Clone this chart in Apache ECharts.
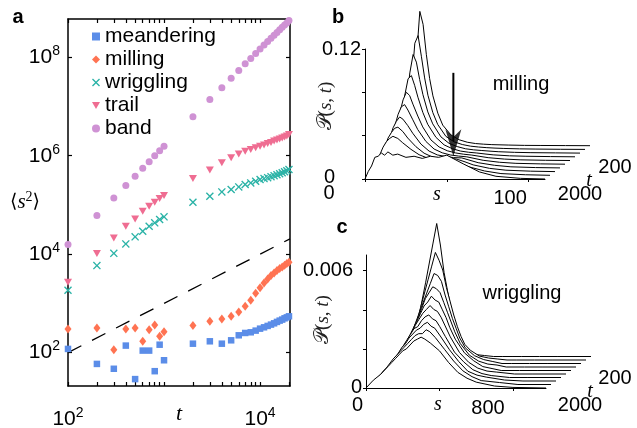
<!DOCTYPE html>
<html>
<head>
<meta charset="utf-8">
<script src="https://cdn.jsdelivr.net/npm/echarts@6/dist/echarts.min.js"></script>
<style>
html, body { margin: 0; padding: 0; background: #fff; }
#main { width: 637px; height: 428px; }
</style>
</head>
<body>
<div id="main"></div>
<script>
/* panel a: <s^2> vs t, panels b/c: P(s,t) waterfalls */

// ---- panel a data ----
const tA = [100, 200, 300, 400, 500, 600, 700, 800, 900, 1000,
    2000, 3000, 4000, 5000, 6000, 7000, 8000, 9000, 10000,
    11000, 12000, 13000, 14000, 15000, 16000, 17000, 18000, 19000, 20000];
const meandering = [119, 59, 47, 139, 29, 110, 110, 42, 145, 70,
    152, 170, 152, 178, 225, 251, 259, 280, 307,
    327, 349, 371, 394, 421, 447, 469, 498, 521, 547];
const milling = [303, 318, 115, 303, 318, 170, 293, 365, 214, 267,
    354, 433, 484, 547, 672, 873, 1156, 1600, 2070,
    2610, 3150, 3670, 4170, 4650, 5100, 5520, 5960, 6440, 6840];
const wriggling = [1850, 5860, 10400, 16200, 22500, 29200, 36900, 43300, 50500, 57300,
    113500, 150000, 184500, 205500, 233000, 260000, 281000, 303000, 328000,
    343000, 359000, 376000, 394000, 412000, 432000, 452000, 473000, 495000, 525000];
const trail = [2700, 10300, 21400, 36900, 52100, 74500, 94200, 113500, 135000, 155000,
    344000, 516000, 718000, 906000, 1090000, 1230000, 1340000, 1450000, 1560000,
    1660000, 1780000, 1860000, 2000000, 2090000, 2190000, 2290000, 2400000, 2510000, 2690000];
const band = [15700, 61000, 139000, 248000, 383000, 557000, 752000, 995000, 1260000, 1560000,
    6170000, 13900000, 24000000, 37600000, 53700000, 73800000, 94600000, 119000000, 148000000,
    178000000, 210000000, 245000000, 280000000, 320000000, 365000000, 410000000, 455000000, 500000000, 560000000];
const guideLine = [[100, 100], [20500, 20500]];   // dashed guide, slope 1
const xTicksA = [100, 200, 300, 400, 500, 600, 700, 800, 900, 1000,
    2000, 3000, 4000, 5000, 6000, 7000, 8000, 9000, 10000, 20000];
const xLabelsA = [100, 10000];
const yTicksA = [1e2, 1e4, 1e6, 1e8];

// ---- panel b data (milling), curves t = 200 ... 2000 ----
const tCurves = [200, 400, 600, 800, 1000, 1200, 1400, 1600, 1800, 2000];
const sMill = [0, 2, 4, 6, 8, 10, 12, 14, 17, 20, 25, 30, 35, 40, 45, 50, 55, 60, 70, 80, 95, 110];
const pMill = [
    [0, .030, .082, .124, .112, .084, .062, .046, .030, .019, .010, .0055, .0032, .002, .0014, .001, .0008, .0006, .0003, .0002, .0001, 0],
    [0, .022, .060, .098, .105, .086, .066, .050, .034, .023, .012, .007, .0045, .003, .0022, .0016, .0012, .0009, .0005, .0003, .0001, 0],
    [0, .017, .046, .074, .091, .084, .068, .054, .038, .027, .015, .009, .006, .004, .003, .0024, .0018, .0013, .0007, .0004, .0002, 0],
    [0, .013, .035, .057, .072, .075, .066, .055, .041, .030, .018, .011, .0075, .0053, .0042, .0035, .0026, .0018, .0009, .0005, .0002, 0],
    [0, .010, .027, .044, .056, .063, .060, .052, .041, .031, .019, .0125, .009, .007, .0058, .005, .0038, .0026, .0013, .0006, .0002, 0],
    [0, .008, .021, .035, .046, .053, .055, .050, .041, .032, .021, .014, .0105, .0085, .0075, .0068, .0052, .0036, .0018, .0008, .0003, 0],
    [0, .007, .017, .028, .037, .043, .047, .045, .039, .032, .022, .0155, .012, .0105, .0095, .0092, .007, .0048, .0024, .001, .0003, 0],
    [0, .006, .014, .023, .031, .036, .040, .041, .037, .031, .023, .017, .0135, .012, .0125, .0115, .009, .0062, .003, .0013, .0004, 0],
    [0, .005, .012, .019, .026, .031, .034, .036, .034, .030, .024, .019, .016, .0145, .015, .014, .0115, .008, .004, .0016, .0005, 0],
    [0, .007, .012, .020, .021, .024, .022, .025, .022, .023, .020, .021, .019, .021, .020, .022, .018, .014, .0065, .0025, .0006, 0]
];
const arrowShaft = [[54, 0.098], [54, 0.035]];
const arrowTip = [[54, 0.021]];

// ---- panel c data (wriggling) ----
const sWrig = [0, 40, 80, 120, 140, 160, 180, 200, 220, 240, 260, 280, 300, 320, 350, 400, 450, 500, 550, 600, 700, 800, 980];
const pWrig = [
    [0, .0019, .0038, .0058, .0068, .0057, .0043, .0033, .0024, .0016, .0011, .0007, .0004, .0002, .0001, .00005, 0, 0, 0, 0, 0, 0, 0],
    [0, .0013, .0027, .0041, .0048, .0055, .0051, .0046, .0037, .0030, .0023, .0017, .0012, .0008, .0005, .0002, .0001, .00005, 0, 0, 0, 0, 0],
    [0, .0010, .0021, .0031, .0036, .0041, .0046, .0045, .0042, .0035, .0029, .0023, .0018, .0013, .0008, .0004, .0002, .0001, 0, 0, 0, 0, 0],
    [0, .0008, .0017, .0025, .0030, .0035, .0038, .0041, .0040, .0038, .0033, .0028, .0023, .0018, .0012, .0006, .0003, .00015, .0001, 0, 0, 0, 0],
    [0, .0007, .0014, .0021, .0025, .0029, .0033, .0035, .0038, .0036, .0035, .0031, .0027, .0022, .0016, .0009, .0005, .0002, .0001, 0, 0, 0, 0],
    [0, .0006, .0012, .0018, .0021, .0025, .0028, .0031, .0033, .0035, .0033, .0032, .0029, .0025, .0019, .0011, .0006, .0003, .00015, .0001, 0, 0, 0],
    [0, .0005, .0010, .0016, .0019, .0022, .0025, .0026, .0029, .0031, .0032, .0030, .0029, .0026, .0021, .0013, .0008, .0004, .0002, .0001, 0, 0, 0],
    [0, .0005, .0009, .0014, .0017, .0019, .0022, .0024, .0026, .0027, .0029, .0030, .0028, .0027, .0023, .0016, .0010, .0005, .0003, .0002, .00005, 0, 0],
    [0, .0004, .0008, .0013, .0015, .0017, .0019, .0021, .0023, .0025, .0026, .0026, .0028, .0027, .0024, .0018, .0012, .0007, .0004, .0002, .0001, 0, 0],
    [0, .0004, .0007, .0011, .0013, .0015, .0017, .0019, .0020, .0022, .0024, .0025, .0026, .0025, .0023, .0019, .0013, .0008, .0005, .0003, .0001, .00003, 0]
];

const SANS = 'Liberation Sans, Arial, Helvetica, sans-serif';
const SERIF = 'Liberation Serif, DejaVu Serif, serif';

const names = ['meandering', 'milling', 'wriggling', 'trail', 'band'];
const values = [meandering, milling, wriggling, trail, band];
const colors = ['#5b8de8', '#ff7352', '#2bb3a7', '#ef6d92', '#cf92d4'];
const symbols = ['rect', 'diamond',
    'path://M0,1.2L1.2,0L5,3.8L8.8,0L10,1.2L6.2,5L10,8.8L8.8,10L5,6.2L1.2,10L0,8.8L3.8,5Z',
    'path://M0,0L10,0L5,8.5Z', 'circle'];
const sizes = [6.5, [7, 9], 8, [8, 7], 7];

function powLabel(v) {
    let e = Math.round(Math.log10(v));
    return '{b|10}{e|' + e + '}';
}
const richPow = {
    b: { fontSize: 21, fontFamily: SANS, color: '#000' },
    e: { fontSize: 14, fontFamily: SANS, color: '#000', padding: [0, 0, 12, 0] }
};

let option = {
    animation: false,
    backgroundColor: '#fff',
    grid: [{ left: 68, top: 19, width: 222, height: 367, outerBoundsMode: 'none' }],
    xAxis: [],
    yAxis: [],
    series: [],
    legend: {
        data: names,
        orient: 'vertical',
        left: 87,
        top: 21,
        itemWidth: 8,
        itemHeight: 8,
        itemGap: 2,
        textStyle: { fontSize: 21, fontFamily: SANS, color: '#000' },
        selectedMode: false
    },
    graphic: []
};

// panel a axes (box with ticks on all sides)
let lineA = { show: true, onZero: false, lineStyle: { color: '#000', width: 1.5 } };
option.xAxis.push({
    gridIndex: 0, type: 'log', min: 100, max: 20500, position: 'bottom',
    axisLine: lineA, splitLine: { show: false },
    axisTick: { inside: true, length: 4, customValues: xTicksA, lineStyle: { color: '#000', width: 1.2 } },
    axisLabel: { customValues: xLabelsA, formatter: powLabel, rich: richPow, margin: 20 },
    name: 't', nameLocation: 'middle', nameGap: 17, nameMoveOverlap: false,
    nameTextStyle: { fontFamily: SERIF, fontStyle: 'italic', fontSize: 22, color: '#000' }
});
option.xAxis.push({
    gridIndex: 0, type: 'log', min: 100, max: 20500, position: 'top',
    axisLine: lineA, splitLine: { show: false },
    axisTick: { inside: true, length: 4, customValues: xTicksA, lineStyle: { color: '#000', width: 1.2 } },
    axisLabel: { show: false }
});
option.yAxis.push({
    gridIndex: 0, type: 'log', min: 21, max: 6e8, position: 'left',
    axisLine: lineA, splitLine: { show: false },
    axisTick: { inside: true, length: 4, customValues: yTicksA, lineStyle: { color: '#000', width: 1.2 } },
    axisLabel: { customValues: yTicksA, formatter: powLabel, rich: richPow, margin: 8 },
    name: '{a|\u27e8}{i|s}{e|2}{a|\u27e9}', nameLocation: 'middle', nameRotate: 0, nameGap: 28,
    nameMoveOverlap: false,
    nameTextStyle: {
        rich: {
            a: { fontSize: 19, fontFamily: 'DejaVu Serif, serif', color: '#000' },
            i: { fontSize: 21, fontFamily: SERIF, fontStyle: 'italic', color: '#000' },
            e: { fontSize: 14, fontFamily: SERIF, color: '#000', padding: [0, 0, 10, 0] }
        }
    }
});
option.yAxis.push({
    gridIndex: 0, type: 'log', min: 21, max: 6e8, position: 'right',
    axisLine: lineA, splitLine: { show: false },
    axisTick: { inside: true, length: 4, customValues: yTicksA, lineStyle: { color: '#000', width: 1.2 } },
    axisLabel: { show: false }
});

for (let i = 0; i < names.length; i++) {
    option.series.push({
        name: names[i],
        type: 'scatter',
        xAxisIndex: 0, yAxisIndex: 0,
        symbol: symbols[i],
        symbolSize: sizes[i],
        itemStyle: { color: colors[i], opacity: 1 },
        data: tA.map((t, j) => [t, values[i][j]]),
        z: 5
    });
}
option.series.push({
    name: 'guide', type: 'line', xAxisIndex: 0, yAxisIndex: 0,
    data: guideLine, symbol: 'none', silent: true,
    lineStyle: { color: '#000', width: 1.3, type: [15, 12] }, z: 3
});

// waterfall panel: one grid per curve, shifted back/right, front curve carries the axes
function waterfall(cfg) {
    let n = cfg.curves.length;
    for (let i = 0; i < n; i++) {
        let k = n - 1 - i;           // 0 = front (largest t)
        let front = (k === 0);
        option.grid.push({
            left: cfg.left + k * cfg.dx, top: cfg.top + k * cfg.dy,
            width: cfg.width, height: cfg.height, outerBoundsMode: 'none'
        });
        let gi = option.grid.length - 1;
        option.xAxis.push({
            gridIndex: gi, type: 'value', min: 0, max: cfg.sMax, show: front, z: 50,
            axisLine: { show: true, lineStyle: { color: '#000', width: 1 } },
            splitLine: { show: false },
            axisTick: { show: true, length: 3, customValues: cfg.sTicks, lineStyle: { color: '#000' } },
            axisLabel: {
                customValues: cfg.sLabels, margin: cfg.xMargin,
                formatter: v => (v === 0 ? '{z|0}' : '{h|' + v + '}'),
                rich: cfg.xRich
            },
            name: 's', nameLocation: 'middle', nameGap: cfg.sNameGap, nameMoveOverlap: false,
            nameTextStyle: { fontFamily: SERIF, fontStyle: 'italic', fontSize: 20, color: '#000', padding: [0, 36, 0, 0] }
        });
        option.yAxis.push({
            gridIndex: gi, type: 'value', min: 0, max: cfg.pMax, show: front, z: 50,
            axisLine: { show: true, lineStyle: { color: '#000', width: 1 } },
            splitLine: { show: false },
            axisTick: { show: true, length: 3, customValues: cfg.pTicks, lineStyle: { color: '#000' } },
            axisLabel: {
                customValues: cfg.pLabels, margin: 4,
                formatter: v => (v === 0 ? '{z|0}' : '{m|' + v + '}'),
                rich: cfg.yRich
            },
            name: '{sp| }{p|\ud835\udcab}{n|(}{i|s}{n|, }{i|t}{n|)}', nameLocation: 'middle', nameRotate: 90,
            nameGap: cfg.pNameGap, nameMoveOverlap: false,
            nameTextStyle: {
                rich: {
                    sp: { width: cfg.pNameShift, fontSize: 10 },
                    p: { fontSize: 20, fontFamily: 'DejaVu Serif, DejaVu Sans, serif', color: '#222' },
                    n: { fontSize: 19, fontFamily: SERIF, color: '#222' },
                    i: { fontSize: 19, fontFamily: SERIF, fontStyle: 'italic', color: '#222' }
                }
            }
        });
        let xi = option.xAxis.length - 1, yi = option.yAxis.length - 1;
        option.series.push({
            type: 'line', xAxisIndex: xi, yAxisIndex: yi,
            data: cfg.s.map((x, j) => [x, cfg.curves[i][j]]),
            symbol: 'none', clip: false, silent: true,
            lineStyle: { color: '#000', width: 1 },
            areaStyle: { color: '#fff', opacity: 1 },
            z: 20 - k
        });
        if (front && cfg.arrowShaft) {
            // arrow pointing at the secondary bump
            option.series.push({
                type: 'line', xAxisIndex: xi, yAxisIndex: yi, data: cfg.arrowShaft,
                symbol: 'none', silent: true, clip: false,
                lineStyle: { color: '#000', width: 2 }, z: 40
            });
            option.series.push({
                type: 'scatter', xAxisIndex: xi, yAxisIndex: yi, data: cfg.arrowTip,
                symbol: 'path://M0,0L8.5,8L17,0L8.5,28Z', symbolSize: [16, 27], symbolOffset: [0, -13.5],
                itemStyle: { color: '#000' }, silent: true, clip: false, z: 41
            });
        }
    }
}

let labelStyle = { fontSize: 20, fontFamily: SANS, color: '#000' };
waterfall({
    curves: pMill, s: sMill, left: 365, top: 49, width: 180, height: 130, dx: 5, dy: -3.7,
    sMax: 110, pMax: 0.12, sTicks: [0, 50, 100], sLabels: [0, 100], pTicks: [0, 0.04, 0.08, 0.12], pLabels: [0, 0.12],
    xMargin: 4, sNameGap: 6, pNameGap: 29, pNameShift: 16,
    xRich: { z: Object.assign({ padding: [0, 72, 0, 0] }, labelStyle), h: Object.assign({ padding: [5, 37, 0, 0] }, labelStyle) },
    yRich: { z: Object.assign({ padding: [0, 26, 3, 0] }, labelStyle), m: Object.assign({}, labelStyle) },
    arrowShaft: arrowShaft, arrowTip: arrowTip
});
waterfall({
    curves: pWrig, s: sWrig, left: 366, top: 255, width: 180, height: 133, dx: 5, dy: -3.5,
    sMax: 980, pMax: 0.0068, sTicks: [0, 400, 800], sLabels: [0, 800], pTicks: [0, 0.002, 0.004, 0.006], pLabels: [0, 0.006],
    xMargin: 6, sNameGap: 7, pNameGap: 33, pNameShift: 4,
    xRich: { z: Object.assign({ padding: [1, 17, 0, 0] }, labelStyle), h: Object.assign({ padding: [4, 50, 0, 0] }, labelStyle) },
    yRich: { z: Object.assign({ padding: [0, 0, 1, 0] }, labelStyle), m: Object.assign({ padding: [0, 9, 0, 0] }, labelStyle) }
});

function txt(x, y, text, font) {
    return {
        type: 'text', x: x, y: y, z: 100,
        style: { text: text, font: font, fill: '#000', align: 'center', verticalAlign: 'middle',
            textAlign: 'center', textVerticalAlign: 'middle' }
    };
}
const numFont = '20px ' + SANS;
const tFont = 'italic 20px ' + SERIF;
option.graphic = [
    txt(18, 17, 'a', 'bold 20px ' + SANS),
    txt(338, 17, 'b', 'bold 20px ' + SANS),
    txt(342, 227, 'c', 'bold 20px ' + SANS),
    txt(521, 84, 'milling', numFont),
    txt(522, 293, 'wriggling', numFont),
    txt(615, 167, '200', numFont),
    txt(589, 181, 't', tFont),
    txt(580, 194, '2000', numFont),
    txt(615, 378, '200', numFont),
    txt(590, 392, 't', tFont),
    txt(580, 405, '2000', numFont)
];

let chart = echarts.init(document.getElementById('main'), null, { renderer: 'canvas' });
chart.setOption(option);
</script>
</body>
</html>
